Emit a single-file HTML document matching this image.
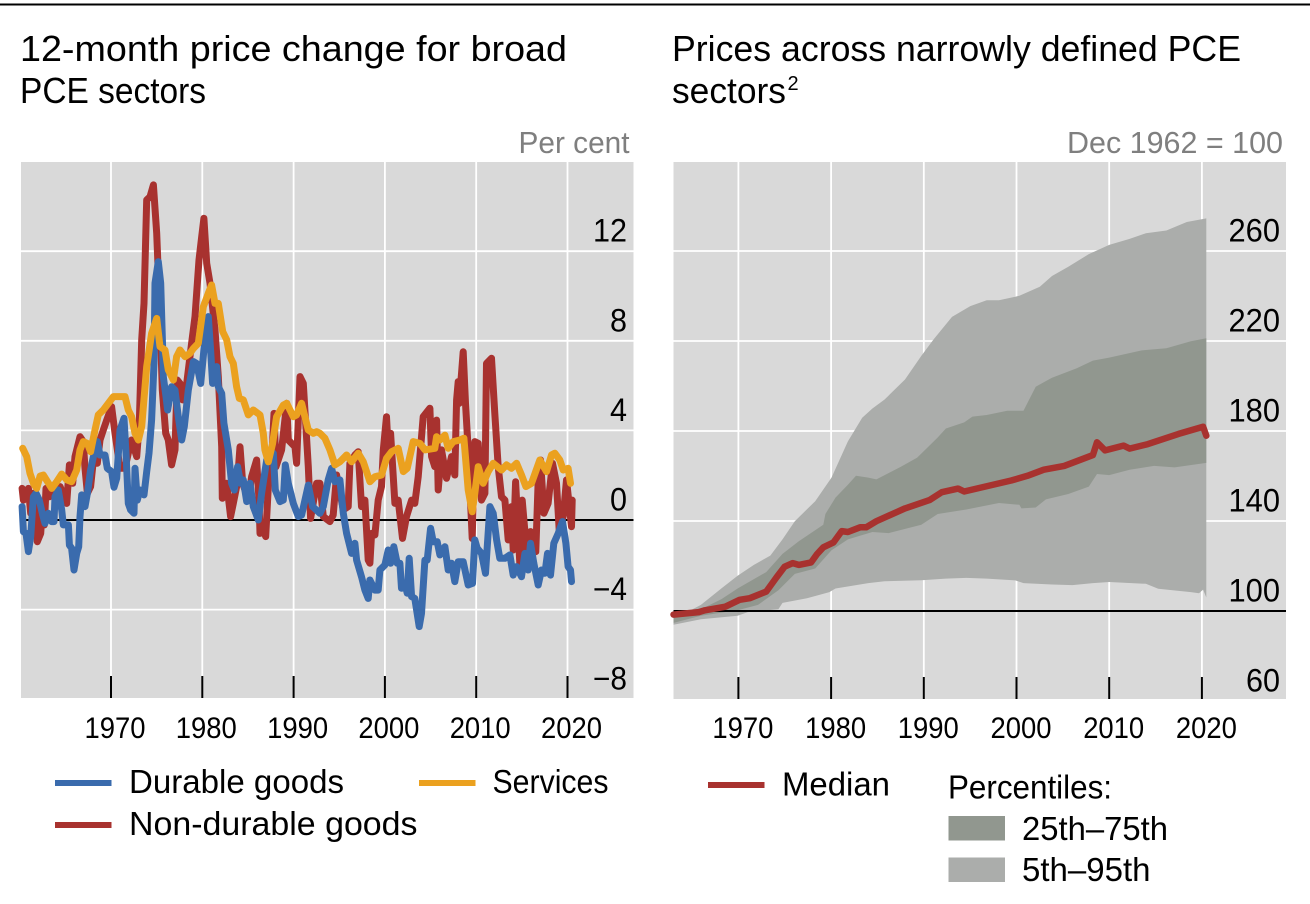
<!DOCTYPE html>
<html lang="en">
<head>
<meta charset="utf-8">
<title>PCE price charts</title>
<style>
html,body{margin:0;padding:0;background:#fff;width:1310px;height:904px;overflow:hidden}
svg{display:block}
text{font-family:"Liberation Sans",sans-serif;fill:#000}
</style>
</head>
<body>
<svg id="figure" xmlns="http://www.w3.org/2000/svg" width="1310" height="904" viewBox="0 0 1310 904">
  <rect x="0" y="3.5" width="1310" height="2" fill="#000"/>

  <text x="20" y="61" font-size="36" textLength="547" lengthAdjust="spacingAndGlyphs">12-month price change for broad</text>
  <text x="20" y="103" font-size="36" textLength="186" lengthAdjust="spacingAndGlyphs">PCE sectors</text>
  <text x="518.5" y="153" font-size="31" style="fill:#7f7f7f" textLength="111" lengthAdjust="spacingAndGlyphs">Per cent</text>

  <text x="672" y="61" font-size="36" textLength="569" lengthAdjust="spacingAndGlyphs">Prices across narrowly defined PCE</text>
  <text x="672" y="103" font-size="36" textLength="114" lengthAdjust="spacingAndGlyphs">sectors</text>
  <text x="787.5" y="90" font-size="20">2</text>
  <text x="1067" y="153" font-size="31" style="fill:#7f7f7f" textLength="216" lengthAdjust="spacingAndGlyphs">Dec 1962 = 100</text>

  <g id="left-chart"></g>
  <g id="right-chart"></g>

  <g>
    <rect x="55" y="780" width="56.5" height="6" fill="#3a6bad"/>
    <text x="129" y="793" font-size="33" textLength="215" lengthAdjust="spacingAndGlyphs">Durable goods</text>
    <rect x="419" y="780" width="56.5" height="6" fill="#eba11f"/>
    <text x="492.5" y="793" font-size="33" textLength="116" lengthAdjust="spacingAndGlyphs">Services</text>
    <rect x="55" y="822" width="56.5" height="6" fill="#a8322f"/>
    <text x="129" y="835" font-size="33" textLength="288.5" lengthAdjust="spacingAndGlyphs">Non-durable goods</text>
  </g>

  <g>
    <rect x="708" y="782" width="56.5" height="6" fill="#a8322f"/>
    <text x="782" y="795.5" font-size="33" textLength="108" lengthAdjust="spacingAndGlyphs">Median</text>
    <text x="948" y="798.5" font-size="33" textLength="164" lengthAdjust="spacingAndGlyphs">Percentiles:</text>
    <rect x="948.5" y="816" width="56.5" height="24.5" fill="#91978f"/>
    <text x="1022" y="840" font-size="33" textLength="146" lengthAdjust="spacingAndGlyphs">25th–75th</text>
    <rect x="948.5" y="857.5" width="56.5" height="24.5" fill="#abadab"/>
    <text x="1022" y="881" font-size="33" textLength="128.5" lengthAdjust="spacingAndGlyphs">5th–95th</text>
  </g>
</svg>

<script>
/* ---------- Left chart data: 12-month price change, per cent ---------- */
const decadeYears = [1970, 1980, 1990, 2000, 2010, 2020];
const leftTickValues = [12, 8, 4, 0, -4, -8];
const leftTickLabels = ["12", "8", "4", "0", "−4", "−8"];
const rightTickValues = [260, 220, 180, 140, 100, 60];
const rightTickLabels = ["260", "220", "180", "140", "100", "60"];

const durableYears = [1960.26,1960.4,1960.69,1960.95,1961.2,1961.5,1961.79,1962.15,1962.52,1962.77,1963.14,1963.5,1963.76,1963.87,1964.23,1964.6,1964.78,1965.33,1965.44,1965.69,1965.95,1966.24,1966.46,1966.61,1966.79,1967.15,1967.41,1967.77,1968.07,1968.5,1968.8,1969.34,1969.6,1970.07,1970.33,1970.62,1970.99,1971.42,1971.64,1971.9,1972.15,1972.52,1972.63,1972.88,1973.18,1973.61,1973.91,1974.16,1974.45,1974.71,1974.82,1975.18,1975.44,1975.66,1975.73,1976.02,1976.2,1976.64,1977.01,1977.37,1977.74,1978.03,1978.47,1979.02,1979.38,1979.82,1980.18,1980.66,1980.91,1981.13,1981.57,1981.75,1982.12,1982.37,1982.85,1983.21,1983.5,1983.87,1984.2,1984.49,1984.86,1985.22,1985.59,1986.13,1986.5,1987.05,1987.78,1988.0,1988.51,1988.87,1989.09,1989.42,1989.97,1990.51,1990.88,1991.61,1992.08,1992.88,1993.25,1993.79,1994.16,1994.52,1995.07,1995.44,1995.8,1996.35,1996.71,1996.9,1997.44,1997.81,1998.17,1998.36,1998.9,1999.27,1999.45,2000.0,2000.36,2000.62,2000.98,2001.35,2001.64,2001.82,2002.19,2002.44,2002.66,2002.92,2003.28,2003.76,2004.01,2004.38,2004.63,2005.0,2005.29,2005.73,2006.02,2006.57,2006.93,2007.3,2007.66,2008.03,2008.58,2009.12,2009.6,2009.85,2010.11,2010.58,2011.02,2011.5,2011.86,2012.23,2012.59,2013.14,2013.69,2014.05,2014.42,2014.96,2015.33,2015.69,2015.95,2016.31,2016.79,2017.15,2017.52,2017.81,2018.14,2018.5,2018.98,2019.45,2019.82,2020.07,2020.33,2020.44];
const durableValues = [0.6,-0.52,-0.6,-1.41,-0.74,1.04,1.19,0.89,0.22,-0.15,0.3,-0.07,-0.07,1.04,1.34,0.45,-0.22,-0.22,-1.12,-1.26,-2.23,-1.49,-1.19,0.15,1.12,0.6,1.19,2.23,2.83,3.5,2.9,2.9,2.31,2.16,1.46,1.86,4.02,4.54,2.98,0.74,0.45,0.3,2.31,0.89,1.34,1.12,2.16,2.98,4.46,6.99,10.57,11.53,10.57,7.59,6.4,5.51,4.91,5.95,5.8,4.61,3.57,4.17,5.8,7.07,6.99,6.1,7.59,9.08,7.59,6.1,6.85,5.95,5.65,4.32,3.13,1.64,1.34,2.38,1.64,1.79,0.82,1.64,0.6,0,1.19,2.68,2.98,1.34,0.82,0.89,2.46,1.64,0.74,0.15,0.22,1.56,0.6,0.3,0.6,1.79,2.31,1.71,1.79,0.3,-0.6,-1.49,-1.04,-1.79,-2.53,-3.13,-3.5,-2.68,-3.13,-3.13,-2.23,-2.01,-1.34,-1.93,-1.19,-1.93,-1.93,-3.05,-2.83,-3.27,-1.71,-3.42,-3.5,-4.76,-4.17,-1.79,-1.79,-0.37,-0.97,-0.97,-1.56,-1.19,-2.23,-1.93,-2.75,-1.86,-1.86,-2.9,-2.83,-0.89,-1.26,-1.49,-2.38,0.6,0.3,-0.89,-1.71,-1.71,-1.56,-2.46,-2.08,-2.53,-1.49,-2.23,-1.04,-1.93,-2.9,-2.23,-2.38,-1.49,-2.46,-1.04,-0.6,-0.07,-1.04,-2.08,-2.23,-2.75];

const servicesYears = [1960.33,1960.77,1961.13,1961.5,1961.86,1962.23,1962.59,1963.5,1964.05,1964.6,1965.15,1965.69,1966.24,1966.61,1966.97,1967.41,1967.77,1968.25,1968.61,1969.16,1970.26,1970.99,1971.53,1971.9,1972.26,1972.63,1973.0,1973.36,1973.91,1974.45,1975.0,1975.37,1975.91,1976.28,1976.83,1977.19,1977.56,1978.1,1978.65,1979.02,1979.56,1980.11,1980.66,1981.02,1981.39,1981.75,1982.23,1982.67,1983.03,1983.4,1983.76,1984.05,1984.49,1985.04,1985.59,1986.32,1986.68,1986.86,1987.23,1987.7,1988.14,1988.87,1989.24,1989.97,1990.33,1990.88,1991.24,1991.61,1992.16,1992.52,1992.88,1993.43,1993.98,1994.52,1995.07,1995.8,1996.35,1997.08,1997.63,1998.36,1998.9,1999.63,2000.18,2000.73,2001.46,2002.01,2002.44,2003.1,2003.83,2004.38,2005.47,2005.66,2006.02,2006.57,2006.93,2007.48,2008.21,2008.65,2009.12,2009.56,2009.85,2010.22,2010.77,2011.31,2011.86,2012.77,2013.32,2013.87,2014.42,2014.96,2015.44,2016.06,2016.97,2017.7,2018.25,2018.61,2019.16,2019.53,2020.07,2020.33];
const servicesValues = [3.2,2.83,2.08,1.64,1.41,1.96,2.01,1.41,1.71,2.05,1.79,1.71,2.23,3.13,3.5,3.42,3.05,4.02,4.69,4.91,5.51,5.51,5.51,4.91,4.61,3.87,3.57,4.17,6.85,8.33,9.0,7.74,7.59,6.7,6.25,7.29,7.59,7.29,7.44,7.66,7.89,9.52,10.12,10.49,9.67,9.67,8.41,8.04,7.29,6.99,5.95,5.43,5.36,4.69,4.91,4.69,3.87,3.13,2.6,3.42,4.61,5.13,5.21,4.61,4.69,5.21,4.61,4.02,3.87,3.94,3.87,3.65,3.13,2.46,2.6,2.9,2.6,2.98,2.6,1.71,1.93,2.01,2.75,3.05,3.2,2.16,2.31,3.5,3.42,3.13,3.2,3.72,3.57,3.79,3.2,3.5,3.57,3.65,1.34,0.37,1.19,2.38,1.64,2.16,2.53,2.23,2.46,2.31,2.53,2.01,1.49,1.64,2.68,2.16,2.9,2.98,2.68,2.23,2.31,1.64];

const nonDurableYears = [1960.26,1960.4,1960.95,1961.2,1961.5,1961.79,1961.93,1962.3,1962.52,1962.7,1962.88,1963.25,1963.69,1964.05,1964.42,1965.15,1965.44,1965.8,1966.06,1966.61,1966.97,1967.15,1967.41,1967.77,1968.07,1968.5,1968.8,1969.16,1969.53,1970.07,1970.44,1970.99,1971.53,1971.9,1972.26,1972.81,1973.1,1973.36,1973.61,1973.91,1974.27,1974.64,1975.0,1975.37,1975.62,1975.99,1976.28,1976.64,1977.01,1977.12,1977.26,1977.56,1977.85,1978.29,1978.83,1979.2,1979.64,1979.93,1980.18,1980.48,1980.84,1981.39,1981.75,1982.12,1982.19,1982.67,1983.1,1983.4,1983.83,1984.13,1984.42,1985.04,1985.4,1985.95,1986.21,1986.32,1986.68,1986.94,1987.23,1987.59,1987.85,1988.07,1988.69,1989.24,1989.42,1990.15,1990.33,1990.7,1991.06,1991.35,1991.61,1991.86,1992.52,1992.88,1993.25,1993.98,1994.34,1994.71,1995.44,1995.98,1996.17,1996.71,1997.08,1997.44,1997.81,1998.17,1998.36,1998.54,1998.9,1999.27,1999.63,1999.82,2000.18,2000.36,2000.62,2001.09,2001.46,2001.93,2002.37,2002.92,2003.28,2003.65,2004.2,2004.93,2005.11,2005.47,2005.66,2005.84,2006.2,2006.75,2007.3,2007.66,2007.85,2008.03,2008.14,2008.58,2008.83,2009.12,2009.56,2009.85,2010.22,2010.58,2010.95,2011.13,2011.68,2012.04,2012.41,2012.77,2013.14,2013.5,2013.87,2014.05,2014.31,2014.78,2015.04,2015.51,2015.95,2016.53,2016.79,2017.04,2017.41,2017.88,2018.36,2018.8,2019.09,2019.53,2019.89,2020.44,2020.51];
const nonDurableValues = [1.41,0.89,1.41,0.3,1.19,0.45,-0.97,-0.6,0.74,-0.22,1.41,1.04,1.41,1.19,1.49,0.74,2.46,1.64,2.83,3.72,3.5,2.31,1.19,1.49,2.68,2.53,3.57,4.02,4.46,5.06,3.87,2.31,2.31,2.98,3.57,2.83,4.32,8.04,9.67,14.29,14.43,14.96,12.8,9.08,5.8,3.87,3.57,2.46,3.13,4.61,6.25,6.1,5.36,6.1,7.89,9.08,11.61,12.65,13.47,11.46,10.57,8.48,6.4,3.27,0.97,1.64,0.15,0.74,1.64,3.27,1.64,0.89,1.93,2.68,0.89,-0.6,-0.45,-0.74,1.49,2.53,4.76,2.38,3.13,5.21,3.57,3.27,2.53,6.4,6.1,4.17,2.38,0.07,1.64,1.64,0.15,-0.07,0.22,2.01,0.45,0.6,2.53,2.9,3.05,0.6,0.89,-1.79,-1.93,-0.6,-0.67,0.89,1.49,3.13,4.61,3.13,3.87,0.74,0.89,-0.82,0.15,0.89,0.74,1.93,4.61,4.99,2.83,2.38,4.46,1.34,3.13,1.86,2.83,2.01,5.36,6.18,5.21,7.51,5.21,3.13,-0.82,3.5,3.42,0.89,1.19,6.99,7.22,4.76,2.38,1.04,0.89,-0.89,0.6,-1.34,1.71,-1.93,0.89,-1.34,-0.52,-1.41,1.79,2.68,0.3,0.74,2.53,1.64,-0.45,0.15,1.79,-0.3,0.89];

/* ---------- Right chart data: price index, Dec 1962 = 100 ---------- */
const p95Years = [1963,1965.95,1968.15,1969.91,1971.67,1973.44,1974.76,1976.08,1978.28,1980.04,1981.81,1983.35,1984.45,1985.77,1987.97,1989.73,1991.06,1993.04,1995.02,1996.78,1998.1,2000.31,2002.51,2003.83,2005.59,2007.8,2010,2012.2,2013.96,2016.17,2018.37,2020.48];
const p95Values = [96.3,102.7,110,115.7,120.5,124.6,131.8,139.9,148.8,159.3,175.4,185.9,190,194,202.9,213.4,220.7,230.7,235.5,238.1,238.1,240.1,244.1,248.9,253,258.6,262.7,265.4,267.9,269.1,272.9,274.5];
const p5Years = [1963,1965.95,1969.91,1971.01,1974.32,1974.76,1977.4,1979.82,1980.48,1984.01,1985.77,1989.73,1992.38,1994.58,1996.78,1999.87,2000.75,2003.83,2006.03,2008.24,2010,2013.96,2015.29,2018.81,2019.69,2020.13,2020.48];
const p5Values = [93.9,96.3,97.9,99.5,100.8,103.6,105.7,108.4,110,112.4,113.2,113.7,114.4,114.7,114.4,113.6,112.4,111.8,111.5,112.4,112.9,112.1,109.9,108.4,107.9,109.5,106];
const p75Years = [1963,1965.95,1968.15,1969.91,1973,1974.76,1976.52,1979.16,1979.38,1980.48,1981.81,1982.69,1984.01,1984.89,1987.53,1989.29,1991.5,1992.38,1994.36,1995.24,1996.78,1999,2000.75,2002.07,2003.83,2006.47,2008.24,2010,2013.52,2016.17,2018.81,2020.48];
const p75Values = [97.1,100.8,105.2,110,117.3,125.4,131,138.3,143.1,150.4,156.1,160.1,159.3,158.5,164.1,168.2,177.1,181.1,183.8,186.4,187.1,189,189,199.7,203.7,207.8,211.3,212.6,215.8,216.8,219.9,221.2];
const p25Years = [1963,1965.95,1969.91,1972.11,1974.32,1976.08,1978.28,1980.04,1981.81,1984.45,1986.21,1989.73,1991.5,1994.58,1998.1,2000.31,2000.53,2002.07,2003.17,2005.59,2007.8,2008.68,2010,2012.2,2014.84,2017.05,2020.48];
const p25Values = [94.7,97.9,100.3,102.7,109.2,116.5,118.9,127,131.8,135.1,134.6,138.3,143.1,145.1,148,147.2,145.6,146,149.6,152,155.3,160.9,160.4,162.8,164.5,163.8,165.8];
const medianYears = [1963,1965.73,1966.39,1968.59,1970.13,1971.23,1973,1974.1,1974.98,1975.86,1976.52,1977.84,1978.5,1979.16,1980.26,1981.14,1981.81,1983.13,1983.79,1984.89,1987.97,1990.62,1991.94,1993.7,1994.36,1999.43,2001.19,2002.95,2005.15,2008.24,2008.68,2009.56,2011.54,2012.2,2014.18,2017.49,2020.13,2020.48];
const medianValues = [98.4,99.5,100.3,101.9,105,105.7,108.6,114.9,119.7,121.3,120.5,121.6,125.4,128.3,130.5,135.5,135.1,137.2,137.2,139.9,145.6,149.3,152.8,154.4,153.1,158,160.1,162.8,164.5,169.3,175,171.4,173.5,172.2,174.2,178.7,181.9,177.9];

/* ---------- Axis functions ---------- */
const leftPlot = {l: 21, r: 633.5, t: 162, b: 698};
const rightPlot = {l: 673.5, r: 1286, t: 162, b: 699};
function xLeft(year) { return 111 + (year - 1970) * 9.13; }
function yLeft(value) { return 520 - value * 22.4; }
function xRight(year) { return 738.4 + (year - 1970) * 9.27; }
function yRight(value) { return 611 - (value - 100) * 2.25; }

const NS = 'http://www.w3.org/2000/svg';
function make(tag, attrs, parent, content) {
  const el = document.createElementNS(NS, tag);
  for (const k in attrs) el.setAttribute(k, attrs[k]);
  if (content !== undefined) el.textContent = content;
  parent.appendChild(el);
  return el;
}
function linePath(xs, ys, fx, fy) {
  return xs.map((x, i) => (i ? 'L' : 'M') + fx(x).toFixed(1) + ' ' + fy(ys[i]).toFixed(1)).join('');
}
function bandPath(xsTop, ysTop, xsBot, ysBot, fx, fy) {
  const top = xsTop.map((x, i) => fx(x).toFixed(1) + ' ' + fy(ysTop[i]).toFixed(1));
  const bot = xsBot.map((x, i) => fx(x).toFixed(1) + ' ' + fy(ysBot[i]).toFixed(1)).reverse();
  return 'M' + top.concat(bot).join('L') + 'Z';
}

function drawFrame(group, plot, fx, fy, values, labelDx) {
  const bg = make('rect', {x: plot.l, y: plot.t, width: plot.r - plot.l, height: plot.b - plot.t, fill: '#d9d9d9'}, group);
  
  
  values.forEach(v => {
    const g = make('line', {x1: plot.l, x2: plot.r, y1: fy(v), y2: fy(v), stroke: '#fff', 'stroke-width': 1.8}, group);
    
    
  });
  decadeYears.forEach(y => {
    const g = make('line', {x1: fx(y), x2: fx(y), y1: plot.t, y2: plot.b, stroke: '#fff', 'stroke-width': 1.8}, group);
    
    
  });
  decadeYears.forEach(y => {
    const t = make('line', {x1: fx(y), x2: fx(y), y1: plot.b - 22, y2: plot.b, stroke: '#000', 'stroke-width': 2}, group);
    
    
    const lab = make('text', {x: fx(y) + labelDx - 30.5, y: 738, 'font-size': 30, textLength: 61, lengthAdjust: 'spacingAndGlyphs'}, group, String(y));
    
    
  });
}
function drawYLabels(group, fy, values, labels, labelRight, widthFor) {
  values.forEach((v, i) => {
    const w = widthFor(labels[i]);
    const lab = make('text', {x: labelRight - w, y: fy(v) - 9.5, 'font-size': 32, textLength: w, lengthAdjust: 'spacingAndGlyphs'}, group, labels[i]);
    
    
  });
}
function drawBaseline(group, plot, y) {
  const l = make('line', {x1: plot.l, x2: plot.r, y1: y, y2: y, stroke: '#000', 'stroke-width': 2}, group);
  
  
}

/* ---------- Left chart ---------- */
const leftG = document.getElementById('left-chart');
drawFrame(leftG, leftPlot, xLeft, yLeft, leftTickValues, 4);
drawBaseline(leftG, leftPlot, yLeft(0));

const nonDurableLine = make('path', {d: linePath(nonDurableYears, nonDurableValues, xLeft, yLeft), fill: 'none', stroke: '#a8322f', 'stroke-width': 7, 'stroke-linejoin': 'round', 'stroke-linecap': 'round'}, leftG);



const durableLine = make('path', {d: linePath(durableYears, durableValues, xLeft, yLeft), fill: 'none', stroke: '#3a6bad', 'stroke-width': 7, 'stroke-linejoin': 'round', 'stroke-linecap': 'round'}, leftG);



const servicesLine = make('path', {d: linePath(servicesYears, servicesValues, xLeft, yLeft), fill: 'none', stroke: '#eba11f', 'stroke-width': 7, 'stroke-linejoin': 'round', 'stroke-linecap': 'round'}, leftG);



drawYLabels(leftG, yLeft, leftTickValues, leftTickLabels, 627, s => s.length === 1 ? 17 : 34);

/* ---------- Right chart ---------- */
const rightG = document.getElementById('right-chart');
drawFrame(rightG, rightPlot, xRight, yRight, rightTickValues, 4.5);

const band595 = make('path', {d: bandPath(p95Years, p95Values, p5Years, p5Values, xRight, yRight), fill: '#abadab'}, rightG);



const band2575 = make('path', {d: bandPath(p75Years, p75Values, p25Years, p25Values, xRight, yRight), fill: '#91978f'}, rightG);



drawBaseline(rightG, rightPlot, yRight(100));

const medianLine = make('path', {d: linePath(medianYears, medianValues, xRight, yRight), fill: 'none', stroke: '#a8322f', 'stroke-width': 6.5, 'stroke-linejoin': 'round', 'stroke-linecap': 'round'}, rightG);



drawYLabels(rightG, yRight, rightTickValues, rightTickLabels, 1280, s => s.length === 2 ? 34 : 51.5);
</script>
</body>
</html>
